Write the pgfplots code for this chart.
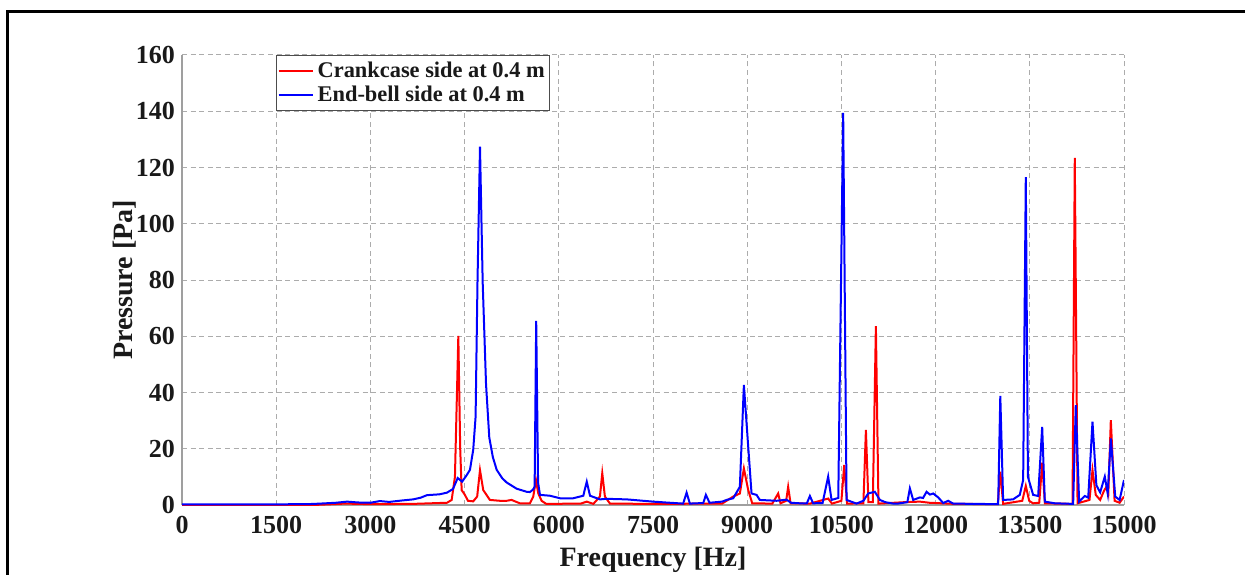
\documentclass[border=0pt]{standalone}
\usepackage{fontspec}
\setmainfont{Liberation Serif}
\usepackage{pgfplots}
\pgfplotsset{compat=1.18}
\begin{document}
\begin{tikzpicture}
\useasboundingbox (0,0) rectangle (622.5pt,287pt);
\draw[line width=1.5pt] (3.5pt,-2pt) -- (3.5pt,281pt) -- (626pt,281pt);
\begin{axis}[
  at={(91pt,34.5pt)}, anchor=south west,
  scale only axis, width=471pt, height=225pt,
  xmin=0, xmax=15000, ymin=0, ymax=160,
  scaled x ticks=false, scaled y ticks=false,
  xtick={0,1500,3000,4500,6000,7500,9000,10500,12000,13500,15000},
  xticklabels={0,1500,3000,4500,6000,7500,9000,10500,12000,13500,15000},
  ytick={0,20,40,60,80,100,120,140,160},
  yticklabels={0,20,40,60,80,100,120,140,160},
  axis lines=left,
  axis line style={-, draw=gray!75, line width=0.6pt},
  major tick length=0pt,
  grid=major,
  major grid style={draw=gray!65, line width=0.5pt, dash pattern=on 2.5pt off 1.8pt},
  tick label style={font=\fontsize{13}{14}\selectfont\bfseries, text=black!90},
  xticklabel style={yshift=-2pt},
  xlabel={Frequency [Hz]},
  ylabel={Pressure [Pa]},
  label style={font=\fontsize{14}{16}\selectfont\bfseries, text=black!90},
  xlabel style={at={(axis description cs:0.5,-0.122)}, anchor=center},
  ylabel style={at={(axis description cs:-0.0605,0.5)}, anchor=center, rotate=0},
  legend style={at={(0.0998,1)}, anchor=north west, draw=black!70, line width=0.5pt,
    font=\fontsize{11.2}{13}\selectfont\bfseries, inner xsep=0.5pt, inner ysep=1pt,
    row sep=-1pt, cells={anchor=west}, text=black!90},
  legend image post style={line width=1pt},
]
\addplot[red, line width=1pt] coordinates {
(0,0) (2000,0) (2200,0.1) (2600,0.5) (3000,0.3) (3680,0.4) (3948,0.6) (4220,0.8)
(4294,1.8) (4346,10) (4400,60.1) (4430,20) (4453,5.3) (4505,3.6) (4553,1.5) (4637,1.3)
(4700,3) (4745,12.4) (4797,5.3) (4903,1.8) (5062,1.5) (5169,1.5) (5248,1.8) (5380,0.6)
(5540,0.6) (5593,3) (5636,8.9) (5673,4.1) (5726,1.5) (5800,0.4) (6350,0.5) (6445,1.2)
(6550,0.4) (6655,3) (6692,11.3) (6734,3) (6815,0.5) (7500,0.4) (8600,0.5) (8777,3)
(8883,4.1) (8947,13) (9016,5.3) (9080,0.6) (9400,0.5) (9493,4.1) (9530,0.6) (9620,1.5)
(9652,6.5) (9690,0.6) (10000,0.5) (10289,2.3) (10350,0.5) (10500,1.5) (10544,14.2)
(10590,0.5) (10850,0.6) (10890,26.7) (10930,1.0) (11000,1.0) (11049,63.6) (11090,0.5)
(11500,1.0) (11750,1.2) (11900,0.8) (12300,0.4) (12990,0.3) (13030,11.8) (13075,0.4)
(13380,1.5) (13436,6.8) (13490,1.5) (13550,0.6) (13650,0.8) (13697,15) (13740,0.6)
(14180,0.4) (14216,123.4) (14260,0.6) (14450,1.8) (14498,12.4) (14550,3.6) (14620,1.8)
(14680,5) (14721,6.5) (14750,4) (14790,30.2) (14850,1.5) (14930,0.8) (15000,3)
};
\addlegendentry{Crankcase side at 0.4 m}
\addplot[blue, line width=1pt] coordinates {
(0,0.2) (1000,0.2) (2000,0.3) (2200,0.5) (2450,0.8) (2630,1.2) (2800,0.9) (3000,0.8)
(3150,1.4) (3300,1.1) (3500,1.6) (3680,2.0) (3800,2.6) (3900,3.5) (4100,3.8) (4220,4.4)
(4315,5.7) (4390,9.6) (4460,8.3) (4530,10.5) (4585,12.5) (4637,19.6) (4675,31.4)
(4705,79) (4745,127.4) (4788,79) (4841,43) (4893,24) (4950,17) (5011,12.5)
(5100,9.5) (5170,8) (5328,5.8) (5489,4.7) (5540,4.6) (5590,5.5) (5615,6.5) (5640,65.5)
(5670,8) (5700,3.6) (5860,3.3) (6020,2.4) (6230,2.4) (6390,3.3) (6445,8.3) (6497,3.3)
(6655,2.0) (6761,2.2) (7080,2.0) (7500,1.2) (7700,0.9) (7980,0.5) (8035,4.4) (8087,0.5)
(8300,0.7) (8342,3.6) (8400,0.8) (8600,1.2) (8671,1.8) (8777,2.4) (8883,6.5) (8947,42.7)
(9016,20.7) (9069,4.1) (9149,3.6) (9200,1.8) (9467,1.5) (9626,1.9) (9700,0.8) (9838,0.6)
(9950,0.6) (9998,3.2) (10050,0.6) (10200,0.7) (10289,10.1) (10343,1.8) (10450,2.5)
(10528,139.4) (10582,1.8) (10740,0.5) (10850,1.5) (10926,4.1) (11032,4.7) (11080,3.0)
(11112,1.8) (11200,1.0) (11324,0.5) (11400,0.5) (11550,1.0) (11590,5.9) (11643,1.8)
(11750,2.7) (11800,2.5) (11856,4.7) (11909,3.7) (11962,4.1) (12041,2.7) (12121,0.7)
(12200,1.5) (12280,0.5) (12996,0.3) (13030,38.8) (13075,1.8) (13234,2.0) (13340,3.6)
(13394,8.9) (13436,116.6) (13470,10) (13553,3.6) (13633,3.2) (13697,27.8) (13739,1.2)
(13900,0.6) (14190,0.4) (14232,35.5) (14285,1.2) (14375,3.2) (14430,2.6) (14498,29.6)
(14560,7) (14620,4.5) (14694,10.1) (14740,4.1) (14790,23.7) (14860,3) (14930,1.8)
(15000,8.9)
};
\addlegendentry{End-bell side at 0.4 m}
\end{axis}
\end{tikzpicture}
\end{document}
